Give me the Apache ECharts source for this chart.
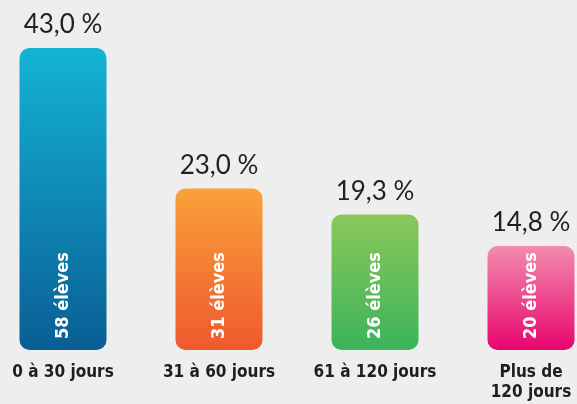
<!DOCTYPE html>
<html><head><meta charset="utf-8">
<script src="https://cdn.jsdelivr.net/npm/echarts@6/dist/echarts.min.js"></script>
<style>html,body{margin:0;padding:0;background:#eeeeee;}#c{width:577px;height:404px;}</style>
</head><body><div id="c"></div>
<script>
var categories = ['0 à 30 jours', '31 à 60 jours', '61 à 120 jours', 'Plus de\n120 jours'];
var percentages = [43.0, 23.0, 19.3, 14.8];
var students = [58, 31, 26, 20];
var gradientStops = [
  ['#14b4d4', '#0a5e94'],
  ['#f9a23a', '#f0582e'],
  ['#8bc75a', '#3bb45b'],
  ['#f28cad', '#e8056e']
];
var condensed = "'Liberation Sans Narrow','DejaVu Sans Condensed','Roboto Condensed',sans-serif";
var chart = echarts.init(document.getElementById('c'));
var barData = percentages.map(function (v, i) {
  return {
    value: v,
    itemStyle: {
      color: new echarts.graphic.LinearGradient(0, 0, 0, 1, [
        {offset: 0, color: gradientStops[i][0]},
        {offset: 1, color: gradientStops[i][1]}
      ]),
      borderRadius: 10
    }
  };
});
chart.setOption({
  backgroundColor: '#eeeeee',
  animation: false,
  grid: {left: 63, right: 46, top: 48, bottom: 54, containLabel: false},
  xAxis: {
    type: 'category', data: categories, boundaryGap: false,
    axisLine: {show: false}, axisTick: {show: false},
    axisLabel: {margin: 13, color: '#1e1e1e', fontFamily: condensed, fontWeight: 'bold',
      fontSize: 17, lineHeight: 20, verticalAlign: 'top', interval: 0}
  },
  yAxis: {type: 'value', min: 0, max: 43, show: false, splitLine: {show: false}},
  series: [
    {
      type: 'bar', data: barData, barWidth: 87,
      label: {show: true, position: 'top', distance: 10, color: '#231f20',
        fontFamily: "Lato,'Open Sans',sans-serif", fontSize: 26,
        formatter: function (p) { return p.value.toFixed(1).replace('.', ',') + ' %'; }}
    },
    {
      type: 'bar', data: percentages, barWidth: 87, barGap: '-100%',
      itemStyle: {color: 'rgba(0,0,0,0)'}, z: 5,
      label: {show: true, position: 'insideBottom', rotate: 90, align: 'left',
        verticalAlign: 'middle', distance: 11, color: '#fff', fontFamily: condensed,
        fontWeight: 'bold', fontSize: 18,
        formatter: function (p) { return students[p.dataIndex] + ' élèves'; }}
    }
  ]
});
</script></body></html>
